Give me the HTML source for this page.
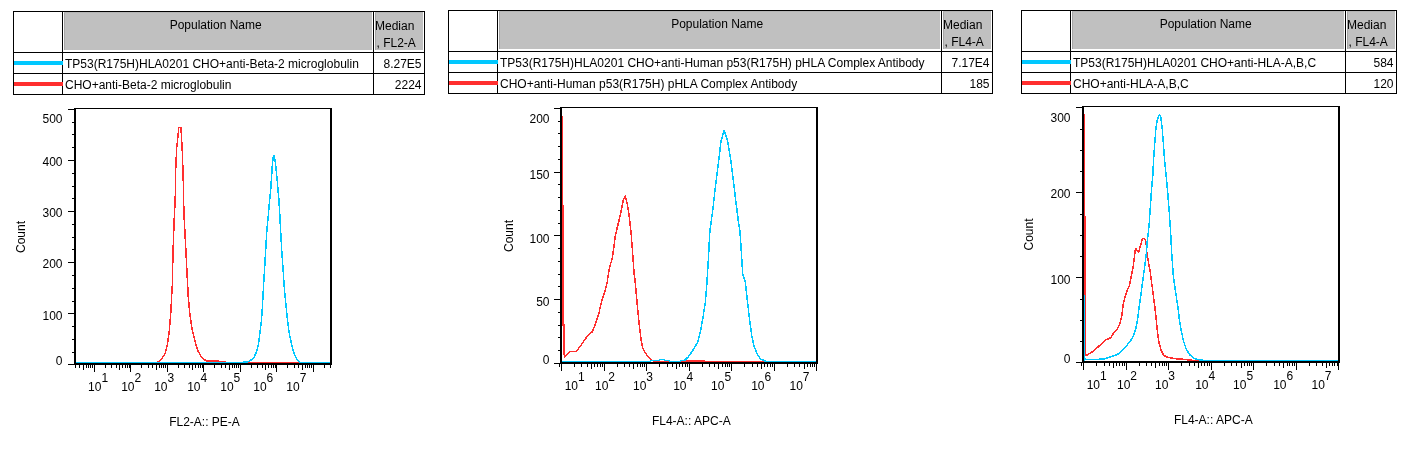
<!DOCTYPE html>
<html><head><meta charset="utf-8"><style>
html,body{margin:0;padding:0;background:#fff;}
svg{display:block;will-change:transform;}
text{font-family:"Liberation Sans",sans-serif;fill:#000;}
</style></head><body>
<svg width="1410" height="449" viewBox="0 0 1410 449">
<rect width="1410" height="449" fill="#fff"/>
<rect x="13" y="11" width="412" height="84" fill="#fff"/>
<rect x="64" y="12" width="308" height="38" fill="#c0c0c0"/>
<rect x="64" y="12" width="1" height="38" fill="#a6a6a6"/>
<rect x="64" y="12" width="308" height="1" fill="#b4b4b4"/>
<rect x="375" y="12" width="48" height="38" fill="#c0c0c0"/>
<rect x="375" y="12" width="1" height="38" fill="#a6a6a6"/>
<rect x="375" y="12" width="48" height="1" fill="#b4b4b4"/>
<rect x="13" y="11" width="412" height="1" fill="#000"/>
<rect x="13" y="94" width="412" height="1" fill="#000"/>
<rect x="13" y="11" width="1" height="84" fill="#000"/>
<rect x="424" y="11" width="1" height="84" fill="#000"/>
<rect x="62" y="11" width="1" height="84" fill="#000"/>
<rect x="373" y="11" width="1" height="84" fill="#000"/>
<rect x="13" y="52" width="412" height="1" fill="#000"/>
<rect x="13" y="73" width="412" height="1" fill="#000"/>
<rect x="14" y="61" width="49" height="4" fill="#00c8ff"/>
<rect x="14" y="82" width="49" height="4" fill="#ff2e2e"/>
<text x="215.7" y="29" font-size="12" text-anchor="middle" >Population Name</text>
<text x="375" y="29.5" font-size="12" text-anchor="start" >Median</text>
<text x="376.5" y="47" font-size="12" text-anchor="start" >, FL2-A</text>
<text x="65" y="68" font-size="12" text-anchor="start" >TP53(R175H)HLA0201 CHO+anti-Beta-2 microglobulin</text>
<text x="65" y="89" font-size="12" text-anchor="start" >CHO+anti-Beta-2 microglobulin</text>
<text x="421.5" y="68" font-size="12" text-anchor="end" >8.27E5</text>
<text x="421.5" y="89" font-size="12" text-anchor="end" >2224</text>
<rect x="448" y="10" width="545" height="84" fill="#fff"/>
<rect x="499" y="11" width="441" height="38" fill="#c0c0c0"/>
<rect x="499" y="11" width="1" height="38" fill="#a6a6a6"/>
<rect x="499" y="11" width="441" height="1" fill="#b4b4b4"/>
<rect x="943" y="11" width="48" height="38" fill="#c0c0c0"/>
<rect x="943" y="11" width="1" height="38" fill="#a6a6a6"/>
<rect x="943" y="11" width="48" height="1" fill="#b4b4b4"/>
<rect x="448" y="10" width="545" height="1" fill="#000"/>
<rect x="448" y="93" width="545" height="1" fill="#000"/>
<rect x="448" y="10" width="1" height="84" fill="#000"/>
<rect x="992" y="10" width="1" height="84" fill="#000"/>
<rect x="497" y="10" width="1" height="84" fill="#000"/>
<rect x="941" y="10" width="1" height="84" fill="#000"/>
<rect x="448" y="51" width="545" height="1" fill="#000"/>
<rect x="448" y="72" width="545" height="1" fill="#000"/>
<rect x="449" y="60" width="49" height="4" fill="#00c8ff"/>
<rect x="449" y="81" width="49" height="4" fill="#ff2e2e"/>
<text x="717.2" y="28" font-size="12" text-anchor="middle" >Population Name</text>
<text x="943" y="28.5" font-size="12" text-anchor="start" >Median</text>
<text x="944.5" y="46" font-size="12" text-anchor="start" >, FL4-A</text>
<text x="500" y="67" font-size="12" text-anchor="start" >TP53(R175H)HLA0201 CHO+anti-Human p53(R175H) pHLA Complex Antibody</text>
<text x="500" y="88" font-size="12" text-anchor="start" >CHO+anti-Human p53(R175H) pHLA Complex Antibody</text>
<text x="989.5" y="67" font-size="12" text-anchor="end" >7.17E4</text>
<text x="989.5" y="88" font-size="12" text-anchor="end" >185</text>
<rect x="1021" y="10" width="376" height="84" fill="#fff"/>
<rect x="1072" y="11" width="272" height="38" fill="#c0c0c0"/>
<rect x="1072" y="11" width="1" height="38" fill="#a6a6a6"/>
<rect x="1072" y="11" width="272" height="1" fill="#b4b4b4"/>
<rect x="1347" y="11" width="48" height="38" fill="#c0c0c0"/>
<rect x="1347" y="11" width="1" height="38" fill="#a6a6a6"/>
<rect x="1347" y="11" width="48" height="1" fill="#b4b4b4"/>
<rect x="1021" y="10" width="376" height="1" fill="#000"/>
<rect x="1021" y="93" width="376" height="1" fill="#000"/>
<rect x="1021" y="10" width="1" height="84" fill="#000"/>
<rect x="1396" y="10" width="1" height="84" fill="#000"/>
<rect x="1070" y="10" width="1" height="84" fill="#000"/>
<rect x="1345" y="10" width="1" height="84" fill="#000"/>
<rect x="1021" y="51" width="376" height="1" fill="#000"/>
<rect x="1021" y="72" width="376" height="1" fill="#000"/>
<rect x="1022" y="60" width="49" height="4" fill="#00c8ff"/>
<rect x="1022" y="81" width="49" height="4" fill="#ff2e2e"/>
<text x="1205.7" y="28" font-size="12" text-anchor="middle" >Population Name</text>
<text x="1347" y="28.5" font-size="12" text-anchor="start" >Median</text>
<text x="1348.5" y="46" font-size="12" text-anchor="start" >, FL4-A</text>
<text x="1073" y="67" font-size="12" text-anchor="start" >TP53(R175H)HLA0201 CHO+anti-HLA-A,B,C</text>
<text x="1073" y="88" font-size="12" text-anchor="start" >CHO+anti-HLA-A,B,C</text>
<text x="1393.5" y="67" font-size="12" text-anchor="end" >584</text>
<text x="1393.5" y="88" font-size="12" text-anchor="end" >120</text>
<polyline points="76.0,362.5 157.5,362.5 158.6,361.5 161.9,358.6 165.0,353.8 167.3,345.2 169.2,331.8 170.7,314.5 171.7,295.3 172.6,280.0 172.8,259.0 173.6,235.0 174.4,215.0 175.2,200.0 175.7,170.0 176.6,148.6 177.9,137.0 178.8,127.5 180.9,127.5 181.4,134.3 182.3,152.0 183.2,177.0 183.6,200.0 184.0,215.0 185.6,245.0 186.6,265.0 187.4,280.0 188.3,297.3 189.9,314.5 192.2,329.8 195.0,341.3 197.9,350.9 201.8,357.6 205.6,360.5 207.0,360.9 218.6,360.9 219.4,361.5 225.0,361.5 226.0,362.5 330.0,362.5" fill="none" stroke="#ff2e2e" stroke-width="1.5" stroke-linejoin="round" shape-rendering="crispEdges"/>
<polyline points="76.0,362.5 240.0,362.5 248.1,361.8 251.2,359.9 254.3,356.8 256.8,351.2 258.5,343.7 260.0,332.5 261.5,320.2 262.2,310.3 263.3,290.2 264.5,270.2 265.7,250.1 266.9,230.0 268.4,215.0 269.6,200.0 270.7,190.0 271.6,176.0 272.3,165.0 273.4,155.5 274.4,156.0 276.0,168.0 276.8,176.0 278.0,190.0 278.9,200.0 279.8,215.0 280.7,232.0 281.7,250.1 283.1,270.2 284.5,290.2 286.5,310.0 287.5,320.0 289.1,332.5 291.2,342.4 293.0,350.0 294.9,355.5 297.4,359.9 299.3,361.8 300.5,362.5 331.0,362.5" fill="none" stroke="#00c8ff" stroke-width="1.5" stroke-linejoin="round" shape-rendering="crispEdges"/>
<rect x="74" y="108" width="258" height="1" fill="#000"/>
<rect x="74" y="108" width="2" height="257" fill="#000"/>
<rect x="330" y="108" width="2" height="257" fill="#000"/>
<rect x="74" y="363" width="258" height="2" fill="#000"/>
<rect x="68" y="364" width="6" height="1" fill="#000"/>
<rect x="72" y="352" width="2" height="1" fill="#000"/>
<rect x="72" y="339" width="2" height="1" fill="#000"/>
<rect x="72" y="326" width="2" height="1" fill="#000"/>
<rect x="68" y="313" width="6" height="1" fill="#000"/>
<rect x="72" y="301" width="2" height="1" fill="#000"/>
<rect x="72" y="288" width="2" height="1" fill="#000"/>
<rect x="72" y="275" width="2" height="1" fill="#000"/>
<rect x="68" y="262" width="6" height="1" fill="#000"/>
<rect x="72" y="249" width="2" height="1" fill="#000"/>
<rect x="72" y="237" width="2" height="1" fill="#000"/>
<rect x="72" y="224" width="2" height="1" fill="#000"/>
<rect x="68" y="211" width="6" height="1" fill="#000"/>
<rect x="72" y="198" width="2" height="1" fill="#000"/>
<rect x="72" y="186" width="2" height="1" fill="#000"/>
<rect x="72" y="173" width="2" height="1" fill="#000"/>
<rect x="68" y="160" width="6" height="1" fill="#000"/>
<rect x="72" y="147" width="2" height="1" fill="#000"/>
<rect x="72" y="134" width="2" height="1" fill="#000"/>
<rect x="72" y="122" width="2" height="1" fill="#000"/>
<rect x="68" y="109" width="6" height="1" fill="#000"/>
<rect x="75" y="365" width="1" height="3" fill="#000"/>
<rect x="79" y="365" width="1" height="3" fill="#000"/>
<rect x="83" y="365" width="1" height="5" fill="#000"/>
<rect x="86" y="365" width="1" height="3" fill="#000"/>
<rect x="88" y="365" width="1" height="3" fill="#000"/>
<rect x="90" y="365" width="1" height="3" fill="#000"/>
<rect x="92" y="365" width="1" height="3" fill="#000"/>
<rect x="94" y="365" width="1" height="7" fill="#000"/>
<rect x="105" y="365" width="1" height="3" fill="#000"/>
<rect x="111" y="365" width="1" height="3" fill="#000"/>
<rect x="116" y="365" width="1" height="3" fill="#000"/>
<rect x="119" y="365" width="1" height="5" fill="#000"/>
<rect x="122" y="365" width="1" height="3" fill="#000"/>
<rect x="125" y="365" width="1" height="3" fill="#000"/>
<rect x="127" y="365" width="1" height="3" fill="#000"/>
<rect x="129" y="365" width="1" height="3" fill="#000"/>
<rect x="130" y="365" width="1" height="7" fill="#000"/>
<rect x="141" y="365" width="1" height="3" fill="#000"/>
<rect x="148" y="365" width="1" height="3" fill="#000"/>
<rect x="152" y="365" width="1" height="3" fill="#000"/>
<rect x="156" y="365" width="1" height="5" fill="#000"/>
<rect x="159" y="365" width="1" height="3" fill="#000"/>
<rect x="161" y="365" width="1" height="3" fill="#000"/>
<rect x="163" y="365" width="1" height="3" fill="#000"/>
<rect x="165" y="365" width="1" height="3" fill="#000"/>
<rect x="167" y="365" width="1" height="7" fill="#000"/>
<rect x="178" y="365" width="1" height="3" fill="#000"/>
<rect x="184" y="365" width="1" height="3" fill="#000"/>
<rect x="189" y="365" width="1" height="3" fill="#000"/>
<rect x="192" y="365" width="1" height="5" fill="#000"/>
<rect x="195" y="365" width="1" height="3" fill="#000"/>
<rect x="198" y="365" width="1" height="3" fill="#000"/>
<rect x="200" y="365" width="1" height="3" fill="#000"/>
<rect x="202" y="365" width="1" height="3" fill="#000"/>
<rect x="203" y="365" width="1" height="7" fill="#000"/>
<rect x="214" y="365" width="1" height="3" fill="#000"/>
<rect x="221" y="365" width="1" height="3" fill="#000"/>
<rect x="225" y="365" width="1" height="3" fill="#000"/>
<rect x="229" y="365" width="1" height="5" fill="#000"/>
<rect x="232" y="365" width="1" height="3" fill="#000"/>
<rect x="234" y="365" width="1" height="3" fill="#000"/>
<rect x="236" y="365" width="1" height="3" fill="#000"/>
<rect x="238" y="365" width="1" height="3" fill="#000"/>
<rect x="240" y="365" width="1" height="7" fill="#000"/>
<rect x="251" y="365" width="1" height="3" fill="#000"/>
<rect x="257" y="365" width="1" height="3" fill="#000"/>
<rect x="262" y="365" width="1" height="3" fill="#000"/>
<rect x="265" y="365" width="1" height="5" fill="#000"/>
<rect x="268" y="365" width="1" height="3" fill="#000"/>
<rect x="271" y="365" width="1" height="3" fill="#000"/>
<rect x="273" y="365" width="1" height="3" fill="#000"/>
<rect x="275" y="365" width="1" height="3" fill="#000"/>
<rect x="276" y="365" width="1" height="7" fill="#000"/>
<rect x="287" y="365" width="1" height="3" fill="#000"/>
<rect x="294" y="365" width="1" height="3" fill="#000"/>
<rect x="298" y="365" width="1" height="3" fill="#000"/>
<rect x="302" y="365" width="1" height="5" fill="#000"/>
<rect x="305" y="365" width="1" height="3" fill="#000"/>
<rect x="307" y="365" width="1" height="3" fill="#000"/>
<rect x="309" y="365" width="1" height="3" fill="#000"/>
<rect x="311" y="365" width="1" height="3" fill="#000"/>
<rect x="313" y="365" width="1" height="7" fill="#000"/>
<rect x="324" y="365" width="1" height="3" fill="#000"/>
<rect x="330" y="365" width="1" height="3" fill="#000"/>
<text x="62.5" y="123" font-size="12" text-anchor="end" >500</text>
<text x="62.5" y="166" font-size="12" text-anchor="end" >400</text>
<text x="62.5" y="217" font-size="12" text-anchor="end" >300</text>
<text x="62.5" y="268" font-size="12" text-anchor="end" >200</text>
<text x="62.5" y="319.5" font-size="12" text-anchor="end" >100</text>
<text x="62.5" y="365" font-size="12" text-anchor="end" >0</text>
<text x="88.1" y="391" font-size="12">10</text>
<text x="101.44999999999999" y="382" font-size="12">1</text>
<text x="121.13" y="391" font-size="12">10</text>
<text x="134.48" y="382" font-size="12">2</text>
<text x="154.16" y="391" font-size="12">10</text>
<text x="167.51" y="382" font-size="12">3</text>
<text x="187.19" y="391" font-size="12">10</text>
<text x="200.54" y="382" font-size="12">4</text>
<text x="220.22" y="391" font-size="12">10</text>
<text x="233.57" y="382" font-size="12">5</text>
<text x="253.25" y="391" font-size="12">10</text>
<text x="266.6" y="382" font-size="12">6</text>
<text x="286.28" y="391" font-size="12">10</text>
<text x="299.63" y="382" font-size="12">7</text>
<text x="204.5" y="426" font-size="12" text-anchor="middle" >FL2-A:: PE-A</text>
<text x="0" y="0" font-size="12" text-anchor="middle" transform="translate(25,237) rotate(-90)">Count</text>
<polyline points="562.5,116.0 562.5,206.0 563.0,206.0 563.0,325.0 564.0,325.0 564.0,354.0 564.7,357.0 570.3,351.5 576.6,351.5 579.1,347.6 581.7,344.2 585.7,338.4 590.0,333.1 592.1,332.0 595.3,324.5 598.5,314.9 601.7,301.0 604.9,291.4 607.1,282.8 608.5,273.3 610.1,265.3 612.1,259.3 614.1,245.2 615.1,237.2 617.1,228.1 619.1,220.1 621.1,211.0 623.1,201.0 625.1,196.0 627.1,203.0 629.1,215.1 631.1,233.2 632.5,251.2 634.1,273.3 635.3,282.8 637.0,302.1 639.1,323.5 640.9,338.4 642.4,347.0 644.9,352.0 647.4,355.9 650.9,359.4 654.0,361.5 686.0,361.5 687.0,360.9 704.0,360.9 705.0,361.5 816.0,361.5" fill="none" stroke="#ff2e2e" stroke-width="1.5" stroke-linejoin="round" shape-rendering="crispEdges"/>
<polyline points="562.0,361.5 650.0,361.5 651.0,360.4 659.0,360.4 659.5,359.4 664.0,359.4 664.5,360.4 669.0,360.4 670.0,361.5 680.0,361.5 681.0,360.4 684.6,360.4 688.6,356.5 692.5,350.8 697.7,342.1 700.8,330.0 702.9,317.9 705.3,302.7 706.8,284.5 708.3,260.3 709.8,232.0 713.0,208.2 715.7,184.1 718.4,162.8 721.0,141.4 724.2,130.2 727.7,141.4 730.4,157.4 733.1,178.8 735.7,200.2 738.4,221.5 740.0,232.0 741.5,254.2 742.7,273.9 745.2,281.5 747.6,302.7 749.7,320.9 751.8,336.0 754.2,346.7 757.3,354.2 760.3,358.8 764.8,360.9 766.0,361.5 817.0,361.5" fill="none" stroke="#00c8ff" stroke-width="1.5" stroke-linejoin="round" shape-rendering="crispEdges"/>
<rect x="560" y="107" width="258" height="1" fill="#000"/>
<rect x="560" y="107" width="2" height="257" fill="#000"/>
<rect x="816" y="107" width="2" height="257" fill="#000"/>
<rect x="560" y="362" width="258" height="2" fill="#000"/>
<rect x="554" y="363" width="6" height="1" fill="#000"/>
<rect x="558" y="350" width="2" height="1" fill="#000"/>
<rect x="558" y="337" width="2" height="1" fill="#000"/>
<rect x="558" y="325" width="2" height="1" fill="#000"/>
<rect x="558" y="312" width="2" height="1" fill="#000"/>
<rect x="554" y="299" width="6" height="1" fill="#000"/>
<rect x="558" y="286" width="2" height="1" fill="#000"/>
<rect x="558" y="274" width="2" height="1" fill="#000"/>
<rect x="558" y="261" width="2" height="1" fill="#000"/>
<rect x="558" y="248" width="2" height="1" fill="#000"/>
<rect x="554" y="235" width="6" height="1" fill="#000"/>
<rect x="558" y="223" width="2" height="1" fill="#000"/>
<rect x="558" y="210" width="2" height="1" fill="#000"/>
<rect x="558" y="197" width="2" height="1" fill="#000"/>
<rect x="558" y="184" width="2" height="1" fill="#000"/>
<rect x="554" y="172" width="6" height="1" fill="#000"/>
<rect x="558" y="159" width="2" height="1" fill="#000"/>
<rect x="558" y="146" width="2" height="1" fill="#000"/>
<rect x="558" y="133" width="2" height="1" fill="#000"/>
<rect x="558" y="121" width="2" height="1" fill="#000"/>
<rect x="554" y="108" width="6" height="1" fill="#000"/>
<rect x="559" y="364" width="1" height="3" fill="#000"/>
<rect x="561" y="364" width="1" height="7" fill="#000"/>
<rect x="574" y="364" width="1" height="3" fill="#000"/>
<rect x="581" y="364" width="1" height="3" fill="#000"/>
<rect x="587" y="364" width="1" height="3" fill="#000"/>
<rect x="591" y="364" width="1" height="5" fill="#000"/>
<rect x="594" y="364" width="1" height="3" fill="#000"/>
<rect x="597" y="364" width="1" height="3" fill="#000"/>
<rect x="600" y="364" width="1" height="3" fill="#000"/>
<rect x="602" y="364" width="1" height="3" fill="#000"/>
<rect x="604" y="364" width="1" height="7" fill="#000"/>
<rect x="617" y="364" width="1" height="3" fill="#000"/>
<rect x="624" y="364" width="1" height="3" fill="#000"/>
<rect x="629" y="364" width="1" height="3" fill="#000"/>
<rect x="633" y="364" width="1" height="5" fill="#000"/>
<rect x="637" y="364" width="1" height="3" fill="#000"/>
<rect x="640" y="364" width="1" height="3" fill="#000"/>
<rect x="642" y="364" width="1" height="3" fill="#000"/>
<rect x="644" y="364" width="1" height="3" fill="#000"/>
<rect x="646" y="364" width="1" height="7" fill="#000"/>
<rect x="659" y="364" width="1" height="3" fill="#000"/>
<rect x="667" y="364" width="1" height="3" fill="#000"/>
<rect x="672" y="364" width="1" height="3" fill="#000"/>
<rect x="676" y="364" width="1" height="5" fill="#000"/>
<rect x="679" y="364" width="1" height="3" fill="#000"/>
<rect x="682" y="364" width="1" height="3" fill="#000"/>
<rect x="685" y="364" width="1" height="3" fill="#000"/>
<rect x="687" y="364" width="1" height="3" fill="#000"/>
<rect x="689" y="364" width="1" height="7" fill="#000"/>
<rect x="702" y="364" width="1" height="3" fill="#000"/>
<rect x="709" y="364" width="1" height="3" fill="#000"/>
<rect x="714" y="364" width="1" height="3" fill="#000"/>
<rect x="718" y="364" width="1" height="5" fill="#000"/>
<rect x="722" y="364" width="1" height="3" fill="#000"/>
<rect x="725" y="364" width="1" height="3" fill="#000"/>
<rect x="727" y="364" width="1" height="3" fill="#000"/>
<rect x="729" y="364" width="1" height="3" fill="#000"/>
<rect x="731" y="364" width="1" height="7" fill="#000"/>
<rect x="744" y="364" width="1" height="3" fill="#000"/>
<rect x="752" y="364" width="1" height="3" fill="#000"/>
<rect x="757" y="364" width="1" height="3" fill="#000"/>
<rect x="761" y="364" width="1" height="5" fill="#000"/>
<rect x="764" y="364" width="1" height="3" fill="#000"/>
<rect x="767" y="364" width="1" height="3" fill="#000"/>
<rect x="770" y="364" width="1" height="3" fill="#000"/>
<rect x="772" y="364" width="1" height="3" fill="#000"/>
<rect x="774" y="364" width="1" height="7" fill="#000"/>
<rect x="787" y="364" width="1" height="3" fill="#000"/>
<rect x="794" y="364" width="1" height="3" fill="#000"/>
<rect x="799" y="364" width="1" height="3" fill="#000"/>
<rect x="804" y="364" width="1" height="5" fill="#000"/>
<rect x="807" y="364" width="1" height="3" fill="#000"/>
<rect x="810" y="364" width="1" height="3" fill="#000"/>
<rect x="812" y="364" width="1" height="3" fill="#000"/>
<rect x="814" y="364" width="1" height="3" fill="#000"/>
<rect x="816" y="364" width="1" height="7" fill="#000"/>
<text x="549.5" y="122.5" font-size="12" text-anchor="end" >200</text>
<text x="549.5" y="178.5" font-size="12" text-anchor="end" >150</text>
<text x="549.5" y="242.5" font-size="12" text-anchor="end" >100</text>
<text x="549.5" y="306" font-size="12" text-anchor="end" >50</text>
<text x="549.5" y="364" font-size="12" text-anchor="end" >0</text>
<text x="564.7" y="390" font-size="12">10</text>
<text x="578.0500000000001" y="381" font-size="12">1</text>
<text x="595" y="390" font-size="12">10</text>
<text x="608.35" y="381" font-size="12">2</text>
<text x="633" y="390" font-size="12">10</text>
<text x="646.35" y="381" font-size="12">3</text>
<text x="673.2" y="390" font-size="12">10</text>
<text x="686.5500000000001" y="381" font-size="12">4</text>
<text x="711.1" y="390" font-size="12">10</text>
<text x="724.45" y="381" font-size="12">5</text>
<text x="751.2" y="390" font-size="12">10</text>
<text x="764.5500000000001" y="381" font-size="12">6</text>
<text x="789.5" y="390" font-size="12">10</text>
<text x="802.85" y="381" font-size="12">7</text>
<text x="691.3" y="425" font-size="12" text-anchor="middle" >FL4-A:: APC-A</text>
<text x="0" y="0" font-size="12" text-anchor="middle" transform="translate(512.5,236) rotate(-90)">Count</text>
<polyline points="1084.5,360.5 1084.5,115.0 1084.5,217.0 1085.5,217.0 1085.5,355.1 1086.5,355.1 1088.3,354.4 1092.7,351.5 1097.1,347.8 1100.0,345.1 1105.4,339.7 1108.2,339.0 1110.9,337.6 1113.6,332.9 1117.0,329.5 1119.7,324.0 1121.8,315.9 1123.1,305.0 1125.0,296.6 1127.2,290.5 1129.4,285.6 1130.9,278.3 1133.1,267.2 1134.6,255.0 1135.5,248.4 1138.6,252.3 1142.5,238.6 1144.4,238.6 1146.0,241.4 1146.8,252.3 1148.7,263.4 1150.4,272.7 1151.7,283.4 1153.0,292.8 1154.1,302.2 1154.9,307.0 1156.1,318.6 1157.5,332.1 1158.8,341.7 1160.9,349.8 1163.6,355.2 1167.6,357.3 1174.4,358.6 1183.9,359.3 1193.4,360.5 1338.0,360.5" fill="none" stroke="#ff2e2e" stroke-width="1.5" stroke-linejoin="round" shape-rendering="crispEdges"/>
<polyline points="1084.5,360.5 1084.5,296.0 1084.5,358.0 1085.5,359.2 1086.8,359.6 1098.6,359.6 1100.0,359.1 1105.4,358.7 1110.9,356.7 1116.3,355.0 1120.4,352.6 1125.8,346.5 1129.9,341.7 1133.3,336.3 1136.0,328.1 1138.1,315.9 1139.4,305.0 1140.1,300.3 1141.3,291.7 1142.9,279.5 1144.4,268.5 1146.2,255.0 1147.3,240.6 1148.3,232.8 1149.1,225.0 1150.1,210.2 1151.5,190.1 1152.8,175.0 1153.6,159.7 1154.7,144.1 1155.9,128.4 1157.5,119.1 1159.4,114.7 1160.9,117.5 1162.2,128.4 1163.4,144.1 1164.5,159.7 1166.1,175.0 1167.5,190.1 1169.1,210.2 1170.5,230.2 1171.5,250.0 1172.4,263.4 1173.4,276.8 1174.7,286.1 1176.0,294.1 1177.1,302.2 1178.1,308.0 1179.2,318.6 1181.0,329.4 1183.3,340.3 1186.0,348.4 1189.4,354.5 1193.4,357.9 1197.5,359.6 1204.3,360.5 1339.0,360.5" fill="none" stroke="#00c8ff" stroke-width="1.5" stroke-linejoin="round" shape-rendering="crispEdges"/>
<rect x="1082" y="106" width="258" height="1" fill="#000"/>
<rect x="1082" y="106" width="2" height="257" fill="#000"/>
<rect x="1338" y="106" width="2" height="257" fill="#000"/>
<rect x="1082" y="361" width="258" height="2" fill="#000"/>
<rect x="1076" y="362" width="6" height="1" fill="#000"/>
<rect x="1080" y="341" width="2" height="1" fill="#000"/>
<rect x="1080" y="320" width="2" height="1" fill="#000"/>
<rect x="1080" y="299" width="2" height="1" fill="#000"/>
<rect x="1076" y="277" width="6" height="1" fill="#000"/>
<rect x="1080" y="256" width="2" height="1" fill="#000"/>
<rect x="1080" y="235" width="2" height="1" fill="#000"/>
<rect x="1080" y="214" width="2" height="1" fill="#000"/>
<rect x="1076" y="192" width="6" height="1" fill="#000"/>
<rect x="1080" y="171" width="2" height="1" fill="#000"/>
<rect x="1080" y="150" width="2" height="1" fill="#000"/>
<rect x="1080" y="129" width="2" height="1" fill="#000"/>
<rect x="1076" y="107" width="6" height="1" fill="#000"/>
<rect x="1081" y="363" width="1" height="3" fill="#000"/>
<rect x="1083" y="363" width="1" height="7" fill="#000"/>
<rect x="1096" y="363" width="1" height="3" fill="#000"/>
<rect x="1104" y="363" width="1" height="3" fill="#000"/>
<rect x="1109" y="363" width="1" height="3" fill="#000"/>
<rect x="1113" y="363" width="1" height="5" fill="#000"/>
<rect x="1116" y="363" width="1" height="3" fill="#000"/>
<rect x="1119" y="363" width="1" height="3" fill="#000"/>
<rect x="1122" y="363" width="1" height="3" fill="#000"/>
<rect x="1124" y="363" width="1" height="3" fill="#000"/>
<rect x="1126" y="363" width="1" height="7" fill="#000"/>
<rect x="1139" y="363" width="1" height="3" fill="#000"/>
<rect x="1146" y="363" width="1" height="3" fill="#000"/>
<rect x="1151" y="363" width="1" height="3" fill="#000"/>
<rect x="1155" y="363" width="1" height="5" fill="#000"/>
<rect x="1159" y="363" width="1" height="3" fill="#000"/>
<rect x="1162" y="363" width="1" height="3" fill="#000"/>
<rect x="1164" y="363" width="1" height="3" fill="#000"/>
<rect x="1166" y="363" width="1" height="3" fill="#000"/>
<rect x="1168" y="363" width="1" height="7" fill="#000"/>
<rect x="1181" y="363" width="1" height="3" fill="#000"/>
<rect x="1189" y="363" width="1" height="3" fill="#000"/>
<rect x="1194" y="363" width="1" height="3" fill="#000"/>
<rect x="1198" y="363" width="1" height="5" fill="#000"/>
<rect x="1201" y="363" width="1" height="3" fill="#000"/>
<rect x="1204" y="363" width="1" height="3" fill="#000"/>
<rect x="1207" y="363" width="1" height="3" fill="#000"/>
<rect x="1209" y="363" width="1" height="3" fill="#000"/>
<rect x="1211" y="363" width="1" height="7" fill="#000"/>
<rect x="1224" y="363" width="1" height="3" fill="#000"/>
<rect x="1231" y="363" width="1" height="3" fill="#000"/>
<rect x="1236" y="363" width="1" height="3" fill="#000"/>
<rect x="1241" y="363" width="1" height="5" fill="#000"/>
<rect x="1244" y="363" width="1" height="3" fill="#000"/>
<rect x="1247" y="363" width="1" height="3" fill="#000"/>
<rect x="1249" y="363" width="1" height="3" fill="#000"/>
<rect x="1251" y="363" width="1" height="3" fill="#000"/>
<rect x="1253" y="363" width="1" height="7" fill="#000"/>
<rect x="1266" y="363" width="1" height="3" fill="#000"/>
<rect x="1274" y="363" width="1" height="3" fill="#000"/>
<rect x="1279" y="363" width="1" height="3" fill="#000"/>
<rect x="1283" y="363" width="1" height="5" fill="#000"/>
<rect x="1287" y="363" width="1" height="3" fill="#000"/>
<rect x="1289" y="363" width="1" height="3" fill="#000"/>
<rect x="1292" y="363" width="1" height="3" fill="#000"/>
<rect x="1294" y="363" width="1" height="3" fill="#000"/>
<rect x="1296" y="363" width="1" height="7" fill="#000"/>
<rect x="1309" y="363" width="1" height="3" fill="#000"/>
<rect x="1316" y="363" width="1" height="3" fill="#000"/>
<rect x="1322" y="363" width="1" height="3" fill="#000"/>
<rect x="1326" y="363" width="1" height="5" fill="#000"/>
<rect x="1329" y="363" width="1" height="3" fill="#000"/>
<rect x="1332" y="363" width="1" height="3" fill="#000"/>
<rect x="1334" y="363" width="1" height="3" fill="#000"/>
<rect x="1337" y="363" width="1" height="3" fill="#000"/>
<rect x="1338" y="363" width="1" height="7" fill="#000"/>
<text x="1070.5" y="121.5" font-size="12" text-anchor="end" >300</text>
<text x="1070.5" y="198" font-size="12" text-anchor="end" >200</text>
<text x="1070.5" y="284" font-size="12" text-anchor="end" >100</text>
<text x="1070.5" y="363" font-size="12" text-anchor="end" >0</text>
<text x="1086.7" y="389" font-size="12">10</text>
<text x="1100.05" y="380" font-size="12">1</text>
<text x="1117" y="389" font-size="12">10</text>
<text x="1130.35" y="380" font-size="12">2</text>
<text x="1155" y="389" font-size="12">10</text>
<text x="1168.35" y="380" font-size="12">3</text>
<text x="1195.2" y="389" font-size="12">10</text>
<text x="1208.55" y="380" font-size="12">4</text>
<text x="1233.1" y="389" font-size="12">10</text>
<text x="1246.4499999999998" y="380" font-size="12">5</text>
<text x="1273.2" y="389" font-size="12">10</text>
<text x="1286.55" y="380" font-size="12">6</text>
<text x="1311.5" y="389" font-size="12">10</text>
<text x="1324.85" y="380" font-size="12">7</text>
<text x="1213.3" y="424" font-size="12" text-anchor="middle" >FL4-A:: APC-A</text>
<text x="0" y="0" font-size="12" text-anchor="middle" transform="translate(1033,234.5) rotate(-90)">Count</text>
</svg>
</body></html>
